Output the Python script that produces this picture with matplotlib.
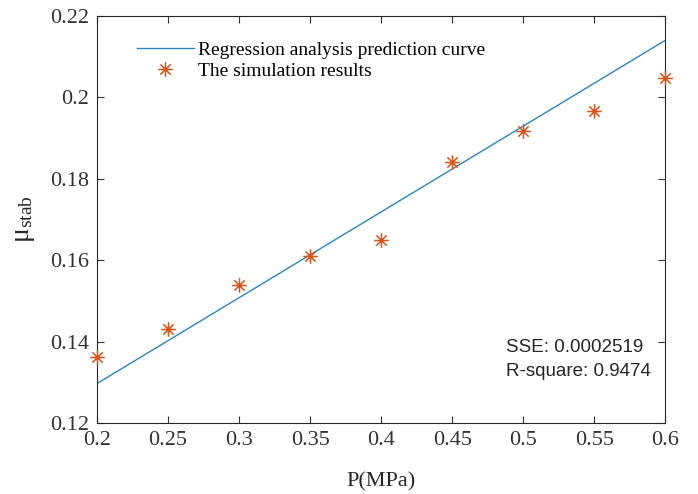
import numpy as np
import matplotlib
matplotlib.use('Agg')
import matplotlib.pyplot as plt
from matplotlib.path import Path

plt.rcParams['font.family'] = 'Liberation Serif'
plt.rcParams['mathtext.fontset'] = 'custom'
plt.rcParams['mathtext.rm'] = 'Liberation Serif'
plt.rcParams['mathtext.it'] = 'Liberation Serif:italic'

# simulation points
pressure = [0.2, 0.25, 0.3, 0.35, 0.4, 0.45, 0.5, 0.55, 0.6]
muStab = [0.1362, 0.1431, 0.1539, 0.1611, 0.1649, 0.1841, 0.1917, 0.1966, 0.2048]

# regression line end points
fitP = [0.2, 0.6]
fitMu = [0.1297, 0.2140]

sseText = 'SSE: 0.0002519'
r2Text = 'R-square: 0.9474'

lineColor = '#2a86b8'
markColor = '#d95319'

# matlab style asterisk: + and x on top of each other
d = 0.7071
astVerts = [(-1, 0), (1, 0), (0, -1), (0, 1), (-d, -d), (d, d), (-d, d), (d, -d)]
astCodes = [Path.MOVETO, Path.LINETO] * 4
asterisk = Path(astVerts, astCodes)

fig = plt.figure(figsize=(6.98, 4.94), dpi=100)
ax = fig.add_axes([0.139, 0.1437, 0.814, 0.824])

ax.plot(fitP, fitMu, color=lineColor, linewidth=1.0, label='Regression analysis prediction curve')
ax.plot(pressure, muStab, linestyle='none', marker=asterisk, color=markColor, markersize=10.5,
        markeredgewidth=1.1, clip_on=False, zorder=5, label='The simulation results')

ax.set_xlim(0.2, 0.6)
ax.set_ylim(0.12, 0.22)
ax.set_xticks([0.2, 0.25, 0.3, 0.35, 0.4, 0.45, 0.5, 0.55, 0.6])
ax.set_xticklabels(['0.2', '0.25', '0.3', '0.35', '0.4', '0.45', '0.5', '0.55', '0.6'])
ax.set_yticks([0.12, 0.14, 0.16, 0.18, 0.2, 0.22])
ax.set_yticklabels(['0.12', '0.14', '0.16', '0.18', '0.2', '0.22'])
ax.tick_params(direction='in', top=True, right=True, labelsize=16, length=5, width=0.8,
               colors='#333333', pad=6)
for sp in ax.spines.values():
    sp.set_linewidth(0.8)
    sp.set_color('#262626')

ax.set_xlabel('P(MPa)', fontsize=16, labelpad=16, color='#262626')
ax.set_ylabel(r'$\mathregular{\mu_{stab}}$', fontsize=20, labelpad=9, color='#262626')

leg = ax.legend(loc='upper left', bbox_to_anchor=(0.04, 0.98), frameon=False, fontsize=14,
                handlelength=2.9, handletextpad=0.2, labelspacing=0.15)

ax.text(0.72, 0.175, sseText, transform=ax.transAxes, fontsize=13.5, family='Liberation Sans',
        color='#262626')
ax.text(0.72, 0.115, r2Text, transform=ax.transAxes, fontsize=13.5, family='Liberation Sans',
        color='#262626')

fig.savefig('out.png', dpi=100)
